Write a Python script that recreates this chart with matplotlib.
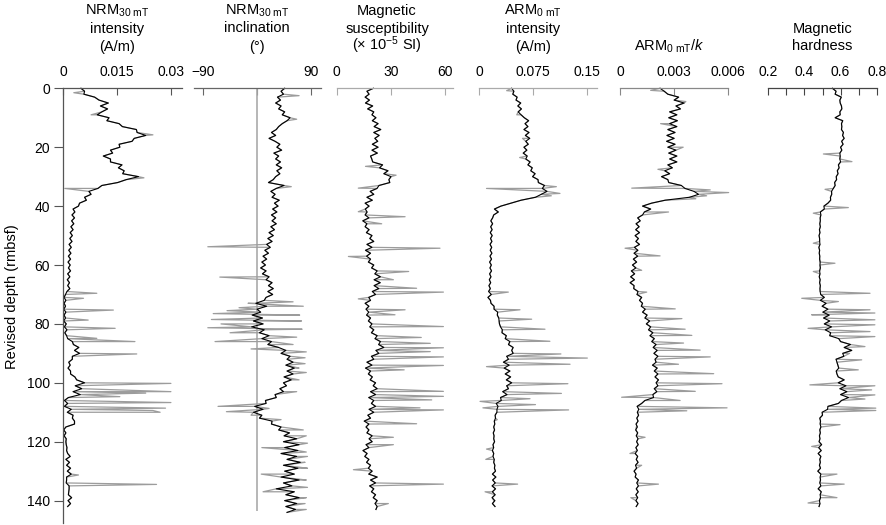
import numpy as np
import matplotlib
matplotlib.use("Agg")
import matplotlib.pyplot as plt
import matplotlib.transforms as mtransforms

plt.rcParams['font.family'] = 'Liberation Sans'
plt.rcParams['mathtext.fontset'] = 'custom'
plt.rcParams['mathtext.rm'] = 'Liberation Sans'
plt.rcParams['mathtext.it'] = 'Liberation Sans:italic'
plt.rcParams['font.size'] = 10

# ---- data, 1 m sampling from 0 m (rmbsf) ----
# NRM 30 mT intensity, mA/m
nrm_int = [5.0, 6.0, 5.8, 8.8, 10.0, 12.6, 10.4, 12.4, 10.8, 9.5,
           12.8, 12.2, 15.6, 16.5, 20.4, 20.6, 23.0, 19.8, 19.2, 15.6,
           15.8, 13.2, 13.8, 11.2, 13.2, 13.2, 16.4, 15.4, 17.0, 16.6,
           21.0, 17.6, 15.2, 10.8, 9.7, 7.2, 7.8, 6.0, 6.5, 4.6,
           4.3, 2.8, 3.3, 2.5, 3.2, 2.4, 3.0, 2.2, 2.8, 2.0,
           2.6, 1.9, 2.5, 1.7, 2.3, 1.6, 2.2, 1.5, 2.1, 1.4,
           2.0, 1.5, 2.1, 1.3, 1.9, 1.2, 1.8, 1.3, 1.9, 1.1,
           0.7, 0.3, 0.8, 0.3, 0.7, 0.2, 0.8, 0.3, 0.7, 0.2,
           0.9, 0.4, 1.1, 0.5, 1.0, 1.3, 2.6, 2.9, 4.4, 3.2,
           4.6, 2.6, 2.6, 1.6, 2.0, 1.4, 2.1, 2.1, 3.3, 3.8,
           6.0, 3.4, 5.2, 2.8, 4.8, 1.5, 0.4, 1.3, 0.4, 2.3,
           1.2, 2.8, 2.6, 3.2, 3.2, 0.8, 0.2, 0.8, 0.3, 0.9,
           0.8, 0.9, 1.1, 1.0, 1.3, 2.0, 0.8, 1.8, 1.0, 2.1,
           1.2, 2.3, 1.0, 1.0, 0.9, 1.7, 1.7, 1.6, 1.5, 2.4,
           1.4, 2.1, 1.3]
nrm_int_spikes = [(1.5, 3.0), (9.0, 7.8), (15.8, 25.0), (30.4, 22.5), (34.0, 0.5),
                  (69.6, 9.4), (71.3, 5.7), (75.3, 14.0), (78.7, 7.0),
                  (81.5, 14.5), (84.9, 9.4), (86.0, 20.0), (90.2, 20.5), (100.2, 30.0),
                  (103.0, 30.0), (103.5, 23.0), (104.7, 15.8), (106.7, 30.0), (108.6, 28.5),
                  (109.4, 25.0), (110.0, 27.0), (131.3, 4.3), (134.5, 26.0)]

# NRM 30 mT inclination, degrees
nrm_inc = [46, 40, 44, 34, 39, 31, 40, 36, 46, 42,
           55, 50, 42, 36, 32, 24, 31, 20, 30, 38,
           33, 41, 28, 36, 31, 39, 32, 41, 33, 38,
           31, 27, 19, 45, 32, 23, 30, 25, 37, 29,
           35, 26, 33, 24, 31, 25, 32, 23, 29, 20,
           27, 18, 25, 16, 22, 13, 19, 10, 16, 8,
           14, 6, 15, 9, 20, 15, 25, 19, 27, 18,
           26, 15, 12, -2, 16, 0, 6, -8, 9, -6,
           10, -9, 12, 4, 20, 8, 24, 18, 36, 48,
           40, 55, 50, 60, 48, 62, 50, 60, 45, 57,
           44, 49, 38, 44, 30, 32, 14, 15, -4, 10,
           -6, 8, 4, 25, 24, 40, 36, 54, 45, 66,
           44, 70, 46, 68, 40, 66, 50, 72, 44, 68,
           46, 62, 40, 70, 44, 58, 32, 62, 48, 70,
           46, 66, 48, 64, 50]
nrm_inc_spikes = [(2.5, 70), (10.5, 66), (33.4, 57), (53.8, -82), (64.1, -62), (72.5, 60),
                  (73.0, -15), (74.0, 77), (74.5, -30), (75.5, -50), (76.5, -73), (77.0, 71),
                  (78.5, -76), (79.0, 74), (80.0, -60), (81.3, -82), (81.8, 75), (83.0, -45),
                  (84.5, 66), (86.0, -70), (87.0, 60), (88.5, -10), (89.5, 82), (91.5, 80),
                  (93.5, 80), (95.0, 70), (96.5, 82), (99.0, 70), (103.0, 66), (108.0, -65),
                  (108.7, 20), (109.8, -51), (111.0, -10), (112.5, 40), (116.0, 77), (118.0, 82),
                  (120.5, 84), (122.0, 8), (123.5, 82), (125.0, 84), (127.0, 80), (129.0, 84),
                  (131.0, 7), (133.0, 82), (135.5, 84), (137.0, 10), (139.0, 82), (141.0, 80),
                  (143.0, 82)]

# magnetic susceptibility, 1e-5 SI
sus = [20.4, 16.8, 18.0, 15.8, 18.2, 16.0, 20.0, 17.2, 20.6, 19.6,
       21.8, 19.8, 23.0, 20.8, 24.5, 20.6, 23.6, 21.2, 22.8, 19.8,
       23.0, 19.6, 22.6, 18.8, 19.5, 20.0, 25.5, 23.8, 28.5, 26.2,
       30.2, 29.0, 29.5, 23.5, 22.4, 18.6, 20.6, 16.8, 19.8, 15.8,
       18.0, 15.9, 16.9, 15.8, 17.9, 14.5, 16.8, 15.8, 18.0, 16.5,
       19.6, 18.4, 20.6, 16.8, 19.6, 16.0, 18.8, 16.6, 18.8, 17.6,
       20.6, 19.4, 22.5, 21.2, 24.3, 20.8, 24.2, 20.8, 23.4, 19.8,
       21.6, 17.8, 18.8, 15.8, 17.9, 16.3, 17.8, 16.6, 18.8, 17.6,
       19.6, 18.4, 20.6, 19.3, 22.5, 21.3, 24.3, 23.3, 26.2, 21.8,
       23.4, 19.3, 20.6, 16.8, 19.6, 16.0, 18.8, 17.6, 19.8, 18.6,
       21.6, 20.3, 22.5, 18.8, 21.6, 17.8, 20.6, 19.3, 21.6, 18.0,
       20.6, 17.3, 18.8, 15.3, 17.9, 16.3, 17.9, 16.8, 19.7, 18.0,
       19.7, 16.3, 17.9, 14.6, 16.9, 15.6, 17.9, 16.6, 18.8, 17.6,
       19.7, 17.8, 22.5, 18.8, 21.6, 18.3, 20.6, 19.3, 21.6, 20.3,
       22.5, 21.3, 22.5, 21.8]
sus_spikes = [(26.5, 16.0), (29.5, 33.0), (33.9, 12.0), (41.9, 12.0), (43.6, 38.0), (46.0, 25.0),
              (54.3, 57.4), (57.1, 6.5), (62.2, 40.0), (65.0, 31.5), (67.9, 44.4), (69.2, 59.3),
              (71.5, 12.0), (75.2, 38.0), (76.9, 32.4), (80.9, 59.3), (84.6, 47.0),
              (86.6, 52.0), (88.1, 59.3), (89.4, 52.0), (91.2, 59.3), (94.1, 59.3),
              (95.6, 37.5), (102.9, 59.3), (104.6, 59.3), (105.8, 52.8), (108.5, 46.3),
              (109.2, 59.3), (113.9, 44.4), (118.5, 31.5), (121.0, 31.5), (129.5, 9.3),
              (134.4, 59.3), (141.0, 28.7)]

# ARM 0 mT intensity, mA/m
arm = [44.9, 48.0, 46.5, 52.5, 51.0, 57.5, 53.5, 58.5, 54.0, 58.0,
       62.5, 68.5, 63.5, 67.5, 62.0, 69.0, 64.0, 70.0, 64.5, 68.0,
       62.0, 66.0, 61.0, 66.5, 64.5, 70.5, 67.5, 73.5, 71.5, 77.5,
       74.0, 81.5, 82.0, 90.5, 87.5, 94.0, 86.0, 78.0, 58.0, 44.0,
       30.0, 21.0, 26.4, 20.0, 18.5, 16.0, 18.5, 15.8, 17.8, 15.2,
       17.9, 15.6, 17.5, 14.9, 17.2, 15.2, 17.5, 14.8, 17.0, 14.3,
       16.7, 14.8, 17.0, 14.3, 16.2, 13.9, 15.8, 13.4, 15.3, 12.9,
       16.7, 12.0, 15.5, 16.2, 20.5, 20.5, 25.5, 25.0, 27.0, 27.5,
       28.0, 29.5, 32.0, 31.5, 37.5, 36.0, 42.5, 40.5, 47.0, 45.0,
       47.0, 38.0, 40.5, 33.5, 41.5, 34.5, 42.5, 36.0, 43.5, 37.5,
       45.0, 38.0, 40.5, 32.5, 38.5, 29.5, 30.5, 23.5, 26.0, 24.5,
       24.5, 22.0, 22.5, 20.8, 21.5, 20.0, 21.2, 19.4, 20.5, 20.0,
       21.2, 19.0, 19.9, 18.2, 20.0, 19.0, 20.8, 20.0, 21.6, 21.0,
       22.5, 18.2, 23.0, 18.5, 22.2, 17.8, 22.5, 18.2, 22.0, 17.8,
       21.6, 18.2, 21.8]
arm_spikes = [(0.8, 38.0), (9.0, 52.0), (17.0, 60.0), (23.5, 56.0), (33.4, 107.0), (34.0, 10.0),
              (35.7, 112.0), (36.5, 100.0), (69.2, 40.3),
              (75.2, 56.5), (78.4, 72.7), (81.8, 91.2), (85.9, 98.0), (90.2, 113.3),
              (91.6, 150.0), (93.7, 126.0), (94.5, 10.0), (100.3, 123.0), (103.6, 114.0),
              (105.4, 70.4), (106.3, 1.0), (107.4, 78.0), (108.5, 5.0), (109.2, 124.0),
              (112.5, 25.0), (122.5, 10.0), (126.0, 9.0), (134.4, 53.2), (137.0, 8.0),
              (140.0, 20.0)]

# ARM 0 mT / k, units of 1e-4
arm_k = [22.2, 24.5, 26.5, 32.5, 30.0, 35.5, 31.0, 33.5, 27.5, 31.5,
         27.0, 31.8, 27.5, 31.5, 26.5, 30.5, 26.0, 30.0, 25.8, 30.5,
         26.5, 31.0, 27.0, 31.5, 27.5, 31.5, 26.5, 29.0, 24.8, 27.5,
         23.0, 26.5, 27.0, 34.0, 36.0, 41.0, 43.5, 38.5, 25.0, 17.5,
         12.5, 17.0, 13.5, 12.5, 9.8, 11.2, 8.9, 10.6, 8.7, 10.8,
         8.4, 10.2, 8.8, 10.8, 8.0, 9.9, 7.8, 9.8, 7.4, 9.2,
         6.9, 8.8, 6.3, 8.1, 5.9, 8.0, 5.6, 7.8, 7.6, 10.0,
         9.4, 12.0, 10.8, 12.5, 11.8, 14.0, 12.5, 15.0, 13.8, 16.4,
         14.6, 17.0, 15.8, 18.2, 16.6, 19.0, 17.6, 20.0, 18.4, 20.6,
         18.8, 21.0, 19.4, 20.0, 18.0, 20.6, 19.0, 21.0, 19.4, 21.3,
         20.0, 21.0, 19.0, 20.4, 18.2, 18.6, 13.8, 12.0, 9.5, 10.4,
         9.6, 10.3, 9.3, 10.0, 8.9, 9.6, 8.7, 9.8, 9.0, 10.0,
         9.2, 10.1, 8.8, 9.6, 8.4, 9.8, 9.0, 10.0, 8.6, 9.2,
         7.8, 8.9, 8.4, 10.2, 9.3, 10.2, 9.0, 10.1, 8.8, 9.8,
         8.8, 10.0, 9.0]
arm_k_spikes = [(0.7, 17.0), (4.5, 36.5), (12.0, 22.5), (20.0, 35.0), (27.5, 21.0),
                (33.9, 6.5), (34.5, 50.0), (35.4, 60.2), (36.5, 48.0), (37.5, 42.0),
                (42.0, 26.9), (50.2, 8.5), (54.3, 2.8), (56.9, 22.2), (61.8, 12.0),
                (69.2, 14.8), (74.9, 30.6), (78.2, 34.3), (81.8, 36.1), (83.9, 39.8),
                (86.5, 35.2), (88.9, 44.4), (91.2, 50.0), (93.7, 32.4), (96.9, 51.9),
                (100.3, 56.5), (102.9, 41.7), (104.9, 0.9), (106.0, 33.3), (108.5, 59.3),
                (109.5, 37.0), (115.0, 9.0), (118.5, 13.9), (124.0, 5.5), (128.0, 12.0),
                (134.4, 21.3), (139.0, 6.0)]

# magnetic hardness
hard = [0.555, 0.575, 0.570, 0.604, 0.596, 0.598, 0.605, 0.607, 0.596, 0.598,
        0.570, 0.612, 0.605, 0.607, 0.605, 0.616, 0.611, 0.620, 0.606, 0.614,
        0.600, 0.607, 0.596, 0.598, 0.596, 0.600, 0.588, 0.592, 0.582, 0.586,
        0.576, 0.578, 0.567, 0.570, 0.560, 0.550, 0.551, 0.544, 0.545, 0.530,
        0.508, 0.510, 0.488, 0.491, 0.487, 0.488, 0.485, 0.488, 0.483, 0.486,
        0.481, 0.484, 0.484, 0.486, 0.480, 0.484, 0.482, 0.485, 0.484, 0.487,
        0.486, 0.488, 0.484, 0.486, 0.482, 0.487, 0.484, 0.488, 0.486, 0.487,
        0.490, 0.510, 0.488, 0.520, 0.498, 0.530, 0.502, 0.537, 0.506, 0.540,
        0.510, 0.550, 0.515, 0.545, 0.540, 0.590, 0.600, 0.655, 0.620, 0.662,
        0.612, 0.618, 0.575, 0.580, 0.585, 0.590, 0.576, 0.580, 0.587, 0.620,
        0.587, 0.630, 0.596, 0.635, 0.600, 0.644, 0.605, 0.588, 0.530, 0.528,
        0.498, 0.500, 0.485, 0.489, 0.487, 0.491, 0.485, 0.488, 0.483, 0.486,
        0.481, 0.495, 0.479, 0.493, 0.476, 0.491, 0.485, 0.488, 0.483, 0.489,
        0.474, 0.491, 0.487, 0.489, 0.485, 0.491, 0.476, 0.493, 0.487, 0.489,
        0.483, 0.486, 0.481]
hard_spikes = [(22.3, 0.505), (24.9, 0.663), (34.3, 0.514), (40.5, 0.643), (42.4, 0.449),
               (52.6, 0.449), (59.4, 0.569), (62.2, 0.449), (69.6, 0.763), (71.3, 0.385),
               (72.4, 0.588), (75.2, 0.763), (76.3, 0.790), (76.9, 0.440), (78.6, 0.790),
               (80.3, 0.790), (81.5, 0.420), (82.6, 0.763), (84.3, 0.790), (87.7, 0.735),
               (90.0, 0.650), (92.2, 0.717), (95.6, 0.698), (100.7, 0.430), (101.0, 0.790),
               (102.4, 0.772), (104.1, 0.790), (105.5, 0.735), (108.6, 0.795), (109.4, 0.795),
               (114.2, 0.597), (121.6, 0.440), (131.0, 0.580), (134.4, 0.620), (139.0, 0.580),
               (140.8, 0.420)]


def with_spikes(base, spikes, scale):
    d = np.concatenate([np.arange(len(base)), [s[0] for s in spikes]])
    v = np.concatenate([np.array(base, float), [s[1] for s in spikes]]) * scale
    o = np.argsort(d)
    return d[o], v[o]


W, H = 886, 525
top_px, bot_px = 88.3, 523

panels = [
    dict(px=(63, 181.7), xlim=(0, 0.033), ticks=[0, 0.015, 0.03], labels=['0', '0.015', '0.03'],
         spine='#555555', base=nrm_int, spikes=nrm_int_spikes, scale=1e-3, tx=0.015,
         title=['NRM$_{\\mathregular{30\\ mT}}$', 'intensity', '(A/m)']),
    dict(px=(194, 320.7), xlim=(-105, 106), ticks=[-90, 0, 90], labels=['\u221290', '', '90'],
         spine='#666666', base=nrm_inc, spikes=nrm_inc_spikes, scale=1, tx=0,
         title=['NRM$_{\\mathregular{30\\ mT}}$', 'inclination', '(\u00b0)']),
    dict(px=(336.7, 453.3), xlim=(0, 64.8), ticks=[0, 30, 60], labels=['0', '30', '60'],
         spine='#aaaaaa', base=sus, spikes=sus_spikes, scale=1, tx=28,
         title=['Magnetic', 'susceptibility', '(\u00d7 10$^{\\mathregular{\u22125}}$ SI)']),
    dict(px=(479.3, 596.7), xlim=(0, 0.163), ticks=[0, 0.075, 0.15], labels=['0', '0.075', '0.15'],
         spine='#aaaaaa', base=arm, spikes=arm_spikes, scale=1e-3, tx=0.075,
         title=['ARM$_{\\mathregular{0\\ mT}}$', 'intensity', '(A/m)']),
    dict(px=(620, 728.3), xlim=(0, 0.006), ticks=[0, 0.003, 0.006], labels=['0', '0.003', '0.006'],
         spine='#888888', base=arm_k, spikes=arm_k_spikes, scale=1e-4, tx=0.0027,
         title=['ARM$_{\\mathregular{0\\ mT}}$/$k$']),
    dict(px=(768.3, 876.7), xlim=(0.2, 0.8), ticks=[0.2, 0.3, 0.4, 0.5, 0.6, 0.7, 0.8],
         labels=['0.2', '', '0.4', '', '0.6', '', '0.8'],
         spine='#444444', base=hard, spikes=hard_spikes, scale=1, tx=0.5,
         title=['Magnetic', 'hardness']),
]

fig = plt.figure(figsize=(W / 100, H / 100), dpi=100)

for i, p in enumerate(panels):
    l, r = p['px']
    ax = fig.add_axes([l / W, 1 - bot_px / H, (r - l) / W, (bot_px - top_px) / H])
    ax.set_facecolor('none')
    ax.set_xlim(*p['xlim'])
    ax.set_ylim(147.6, 0)
    ax.xaxis.tick_top()
    ax.set_xticks(p['ticks'])
    ax.set_xticklabels(p['labels'])
    ax.tick_params(axis='x', direction='in', length=5.3, width=0.8, color=p['spine'],
                   pad=6.5, labelsize=10)
    for s in ['bottom', 'right', 'left']:
        ax.spines[s].set_visible(False)
    ax.spines['top'].set_color(p['spine'])
    ax.spines['top'].set_linewidth(0.9)
    if i == 0:
        ax.spines['left'].set_visible(True)
        ax.spines['left'].set_color('#555555')
        ax.spines['left'].set_linewidth(0.9)
        ax.set_yticks(range(0, 141, 20))
        ax.tick_params(axis='y', direction='out', length=6.5, width=0.8, color='#555555',
                       pad=3, labelsize=10)
    else:
        ax.set_yticks([])
    if i == 1:
        ax.vlines(0, 0, 143.5, color='#aaaaaa', lw=1.2)

    d_raw, v_raw = with_spikes(p['base'], p['spikes'], p['scale'])
    ax.plot(v_raw, d_raw, color='#9c9c9c', lw=0.9, clip_on=False)
    ax.plot(np.array(p['base']) * p['scale'], np.arange(len(p['base'])),
            color='black', lw=0.8, clip_on=False)

    # title lines, bottom-aligned above each track
    trans = mtransforms.blended_transform_factory(ax.transData, fig.transFigure)
    for k, line in enumerate(reversed(p['title'])):
        ax.text(p['tx'], 1 - (50.5 - 18 * k) / H, line, transform=trans,
                ha='center', va='baseline', fontsize=10.5)

fig.text(12 / W, 1 - 297 / H, 'Revised depth (rmbsf)', rotation=90, ha='center', va='center',
         fontsize=10.5)

fig.savefig('out.png', dpi=100)
